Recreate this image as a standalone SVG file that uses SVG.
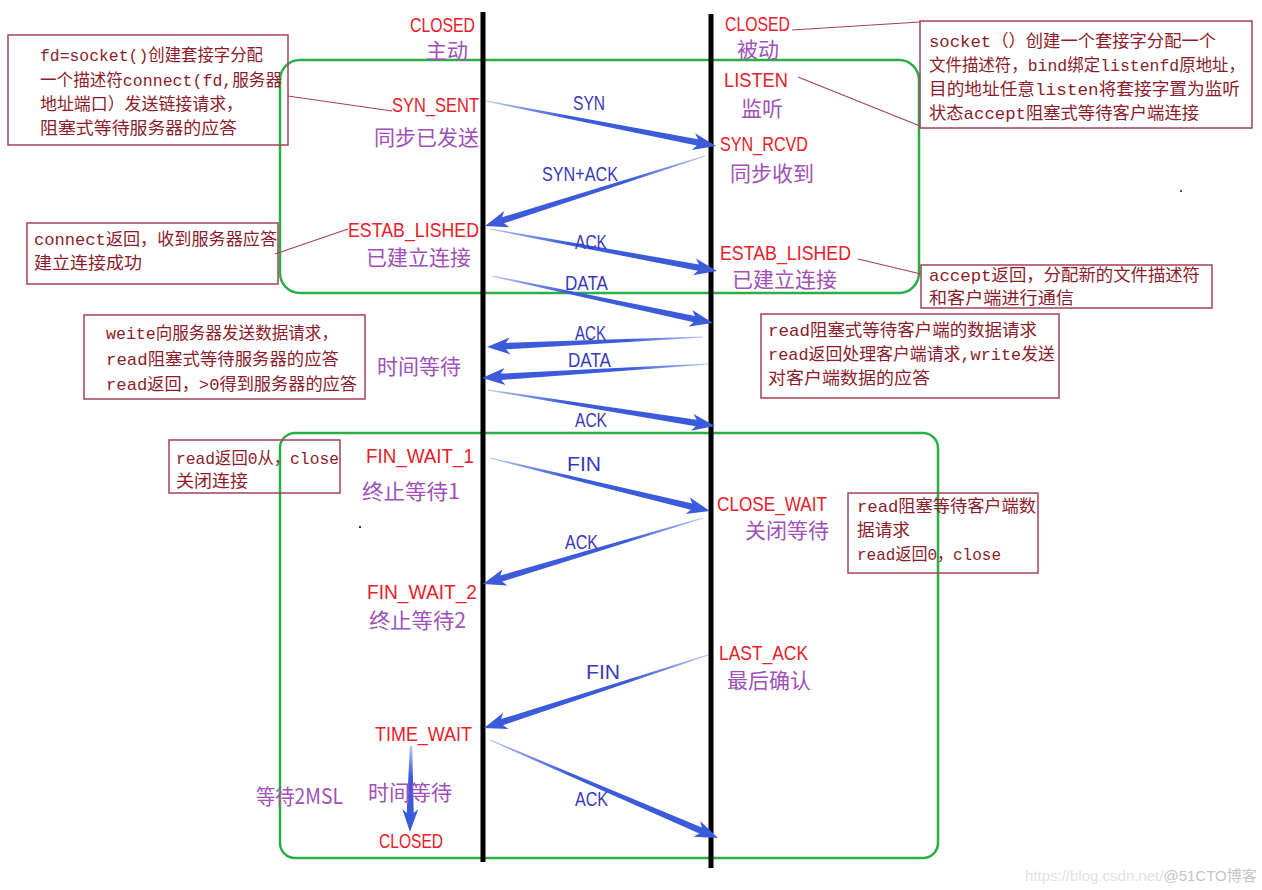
<svg xmlns="http://www.w3.org/2000/svg" width="1262" height="890" viewBox="0 0 1262 890">
<style>
.st{font-family:"Liberation Sans","Noto Sans CJK SC",sans-serif;font-size:21px;fill:#e8202a}
.cn{font-family:"Noto Sans CJK SC",sans-serif;font-size:21px;fill:#a050b8}
.lb{font-family:"Liberation Sans","Noto Sans CJK SC",sans-serif;font-size:20px;fill:#3a3ab8}
.an{font-family:"Liberation Mono","Noto Sans CJK SC",monospace;font-size:17px;fill:#8b1c2c}
.box{fill:none;stroke:#a8405a;stroke-width:1.5}
.lead{stroke:#a8405a;stroke-width:1.2;fill:none}
.grn{fill:none;stroke:#2aae48;stroke-width:2.5}
.life{stroke:#000;stroke-width:5}
.arr{fill:url(#ag)}
</style>
<defs>
<linearGradient id="ag" x1="0" y1="0" x2="1" y2="0">
<stop offset="0" stop-color="#3b5bdb" stop-opacity="0.35"/>
<stop offset="0.35" stop-color="#3b5bdb" stop-opacity="1"/>
<stop offset="1" stop-color="#3b5bdb" stop-opacity="1"/>
</linearGradient>
</defs>
<rect width="1262" height="890" fill="#fff"/>

<g id="phases">
<rect class="grn" x="280" y="60" width="639" height="233" rx="20"/>
<rect class="grn" x="280" y="433" width="658" height="425" rx="15"/>
</g>

<g id="lifelines">
<line class="life" x1="483" y1="12" x2="483" y2="862"/>
<line class="life" x1="711" y1="14" x2="711" y2="868"/>
</g>

<g id="connectors">
<polygon class="arr" transform="translate(486,101) rotate(11.07)" points="0,-0.6 215.4,-3.2 211.4,-8.5 234.4,0 211.4,8.5 215.4,3.2 0,0.6"/>
<polygon class="arr" transform="translate(705,156) rotate(162.35)" points="0,-0.6 211.9,-3.2 207.9,-8.5 230.9,0 207.9,8.5 211.9,3.2 0,0.6"/>
<polygon class="arr" transform="translate(490,229) rotate(10.48)" points="0,-0.6 211.9,-3.2 207.9,-8.5 230.9,0 207.9,8.5 211.9,3.2 0,0.6"/>
<polygon class="arr" transform="translate(492,276) rotate(12.01)" points="0,-0.6 206.9,-3.2 202.9,-8.5 225.9,0 202.9,8.5 206.9,3.2 0,0.6"/>
<polygon class="arr" transform="translate(703,337) rotate(177.35)" points="0,-0.6 197.2,-3.2 193.2,-8.5 216.2,0 193.2,8.5 197.2,3.2 0,0.6"/>
<polygon class="arr" transform="translate(708,364) rotate(176.46)" points="0,-0.6 207.4,-3.2 203.4,-8.5 226.4,0 203.4,8.5 207.4,3.2 0,0.6"/>
<polygon class="arr" transform="translate(488,390) rotate(9.01)" points="0,-0.6 210.8,-3.2 206.8,-8.5 229.8,0 206.8,8.5 210.8,3.2 0,0.6"/>
<polygon class="arr" transform="translate(490,458) rotate(13.55)" points="0,-0.6 207.3,-3.2 203.3,-8.5 226.3,0 203.3,8.5 207.3,3.2 0,0.6"/>
<polygon class="arr" transform="translate(703,518) rotate(163.3)" points="0,-0.6 210.7,-3.2 206.7,-8.5 229.7,0 206.7,8.5 210.7,3.2 0,0.6"/>
<polygon class="arr" transform="translate(708,655) rotate(161.95)" points="0,-0.6 216.6,-3.2 212.6,-8.5 235.6,0 212.6,8.5 216.6,3.2 0,0.6"/>
<polygon class="arr" transform="translate(490,740) rotate(23.26)" points="0,-0.6 229.2,-3.2 225.2,-8.5 248.2,0 225.2,8.5 229.2,3.2 0,0.6"/>
<polygon class="arr" transform="translate(411,746) rotate(90.67)" points="0,-1.2 67,-3.5 63,-8 86,0 63,8 67,3.5 0,1.2"/>
<line class="lead" x1="288" y1="96" x2="392" y2="111"/>
<line class="lead" x1="275" y1="254" x2="348" y2="229"/>
<line class="lead" x1="792" y1="30" x2="920" y2="22"/>
<line class="lead" x1="798" y1="77" x2="920" y2="126"/>
<line class="lead" x1="858" y1="259" x2="921" y2="274"/>
</g>

<g id="arrow-labels">
<text class="lb" x="573" y="110" textLength="32" lengthAdjust="spacingAndGlyphs">SYN</text>
<text class="lb" x="542" y="181" textLength="76" lengthAdjust="spacingAndGlyphs">SYN+ACK</text>
<text class="lb" x="575" y="249" textLength="32" lengthAdjust="spacingAndGlyphs">ACK</text>
<text class="lb" x="565" y="290" textLength="43" lengthAdjust="spacingAndGlyphs">DATA</text>
<text class="lb" x="575" y="340" textLength="31" lengthAdjust="spacingAndGlyphs">ACK</text>
<text class="lb" x="568" y="367" textLength="43" lengthAdjust="spacingAndGlyphs">DATA</text>
<text class="lb" x="575" y="427" textLength="32" lengthAdjust="spacingAndGlyphs">ACK</text>
<text class="lb" x="567" y="471" textLength="34" lengthAdjust="spacingAndGlyphs">FIN</text>
<text class="lb" x="565" y="549" textLength="33" lengthAdjust="spacingAndGlyphs">ACK</text>
<text class="lb" x="586" y="679" textLength="34" lengthAdjust="spacingAndGlyphs">FIN</text>
<text class="lb" x="575" y="806" textLength="33" lengthAdjust="spacingAndGlyphs">ACK</text>
</g>

<g id="client-states">
<g id="c-closed"><text class="st" x="410" y="32" textLength="65" lengthAdjust="spacingAndGlyphs">CLOSED</text><text class="cn" x="426" y="58">主动</text></g>
<g id="c-synsent"><text class="st" x="392" y="112" textLength="87" lengthAdjust="spacingAndGlyphs">SYN_SENT</text><text class="cn" x="374" y="145">同步已发送</text></g>
<g id="c-estab"><text class="st" x="348" y="237" textLength="131" lengthAdjust="spacingAndGlyphs">ESTAB_LISHED</text><text class="cn" x="366" y="265">已建立连接</text></g>
<g id="c-wait"><text class="cn" x="377" y="374">时间等待</text></g>
<g id="c-fw1"><text class="st" x="366" y="463" textLength="108" lengthAdjust="spacingAndGlyphs">FIN_WAIT_1</text><text class="cn" x="362" y="499" textLength="98" lengthAdjust="spacingAndGlyphs">终止等待1</text></g>
<g id="c-fw2"><text class="st" x="367" y="599" textLength="110" lengthAdjust="spacingAndGlyphs">FIN_WAIT_2</text><text class="cn" x="369" y="628" textLength="97" lengthAdjust="spacingAndGlyphs">终止等待2</text></g>
<g id="c-timewait"><text class="st" x="375" y="741" textLength="97" lengthAdjust="spacingAndGlyphs">TIME_WAIT</text><text class="cn" x="368" y="800">时间等待</text><text class="cn" x="256" y="804" textLength="87" lengthAdjust="spacingAndGlyphs">等待2MSL</text></g>
<g id="c-closed2"><text class="st" x="379" y="848" textLength="64" lengthAdjust="spacingAndGlyphs">CLOSED</text></g>
</g>

<g id="server-states">
<g id="s-closed"><text class="st" x="725" y="31" textLength="65" lengthAdjust="spacingAndGlyphs">CLOSED</text><text class="cn" x="737" y="57">被动</text></g>
<g id="s-listen"><text class="st" x="724" y="87" textLength="64" lengthAdjust="spacingAndGlyphs">LISTEN</text><text class="cn" x="741" y="116">监听</text></g>
<g id="s-synrcvd"><text class="st" x="720" y="151" textLength="88" lengthAdjust="spacingAndGlyphs">SYN_RCVD</text><text class="cn" x="730" y="181">同步收到</text></g>
<g id="s-estab"><text class="st" x="720" y="260" textLength="131" lengthAdjust="spacingAndGlyphs">ESTAB_LISHED</text><text class="cn" x="732" y="287">已建立连接</text></g>
<g id="s-closewait"><text class="st" x="717" y="511" textLength="110" lengthAdjust="spacingAndGlyphs">CLOSE_WAIT</text><text class="cn" x="745" y="538">关闭等待</text></g>
<g id="s-lastack"><text class="st" x="719" y="660" textLength="89" lengthAdjust="spacingAndGlyphs">LAST_ACK</text><text class="cn" x="727" y="688">最后确认</text></g>
</g>

<g id="note-socket-client">
<rect class="box" x="8" y="35" width="280" height="110"/>
<text class="an" x="40" y="61" textLength="223" lengthAdjust="spacingAndGlyphs">fd=socket()创建套接字分配</text>
<text class="an" x="40" y="86" textLength="242" lengthAdjust="spacingAndGlyphs">一个描述符connect(fd,服务器</text>
<text class="an" x="40" y="110" textLength="203" lengthAdjust="spacingAndGlyphs">地址端口）发送链接请求，</text>
<text class="an" x="40" y="134" textLength="197" lengthAdjust="spacingAndGlyphs">阻塞式等待服务器的应答</text>
</g>
<g id="note-connect">
<rect class="box" x="27" y="223" width="251" height="61"/>
<text class="an" x="34" y="245" textLength="243" lengthAdjust="spacingAndGlyphs">connect返回，收到服务器应答</text>
<text class="an" x="34" y="269" textLength="108" lengthAdjust="spacingAndGlyphs">建立连接成功</text>
</g>
<g id="note-socket-server">
<rect class="box" x="920" y="21" width="332" height="107"/>
<text class="an" x="929" y="47" textLength="287" lengthAdjust="spacingAndGlyphs">socket（）创建一个套接字分配一个</text>
<text class="an" x="929" y="71" textLength="316" lengthAdjust="spacingAndGlyphs">文件描述符，bind绑定listenfd原地址，</text>
<text class="an" x="929" y="95" textLength="311" lengthAdjust="spacingAndGlyphs">目的地址任意listen将套接字置为监听</text>
<text class="an" x="929" y="119" textLength="270" lengthAdjust="spacingAndGlyphs">状态accept阻塞式等待客户端连接</text>
</g>
<g id="note-accept">
<rect class="box" x="921" y="265" width="291" height="43"/>
<text class="an" x="929" y="281" textLength="271" lengthAdjust="spacingAndGlyphs">accept返回，分配新的文件描述符</text>
<text class="an" x="929" y="304" textLength="145" lengthAdjust="spacingAndGlyphs">和客户端进行通信</text>
</g>
<g id="note-write">
<rect class="box" x="84" y="315" width="281" height="84"/>
<text class="an" x="106" y="339" textLength="232" lengthAdjust="spacingAndGlyphs">weite向服务器发送数据请求，</text>
<text class="an" x="106" y="365" textLength="233" lengthAdjust="spacingAndGlyphs">read阻塞式等待服务器的应答</text>
<text class="an" x="106" y="390" textLength="251" lengthAdjust="spacingAndGlyphs">read返回，&gt;0得到服务器的应答</text>
</g>
<g id="note-read-server">
<rect class="box" x="761" y="314" width="298" height="84"/>
<text class="an" x="768" y="336" textLength="269" lengthAdjust="spacingAndGlyphs">read阻塞式等待客户端的数据请求</text>
<text class="an" x="768" y="360" textLength="287" lengthAdjust="spacingAndGlyphs">read返回处理客户端请求,write发送</text>
<text class="an" x="768" y="384" textLength="162" lengthAdjust="spacingAndGlyphs">对客户端数据的应答</text>
</g>
<g id="note-close-client">
<rect class="box" x="169" y="440" width="171" height="53"/>
<text class="an" x="176" y="464" textLength="163" lengthAdjust="spacingAndGlyphs">read返回0从，close</text>
<text class="an" x="176" y="487" textLength="72" lengthAdjust="spacingAndGlyphs">关闭连接</text>
</g>
<g id="note-close-server">
<rect class="box" x="848" y="493" width="190" height="80"/>
<text class="an" x="857" y="512" textLength="179" lengthAdjust="spacingAndGlyphs">read阻塞等待客户端数</text>
<text class="an" x="857" y="536" textLength="53" lengthAdjust="spacingAndGlyphs">据请求</text>
<text class="an" x="857" y="560" textLength="144" lengthAdjust="spacingAndGlyphs">read返回0，close</text>
</g>

<g id="specks">
<rect x="1180" y="190" width="2" height="2" fill="#555"/>
<rect x="359" y="526" width="2" height="2" fill="#333"/>
</g>

<g id="watermark">
<text x="1025" y="881" font-family="Liberation Sans, Noto Sans CJK SC, sans-serif" font-size="15" fill="#e2e2e2">https://blog.csdn.net/<tspan fill="#c6c6c6">@51CTO博客</tspan></text>
</g>
</svg>
